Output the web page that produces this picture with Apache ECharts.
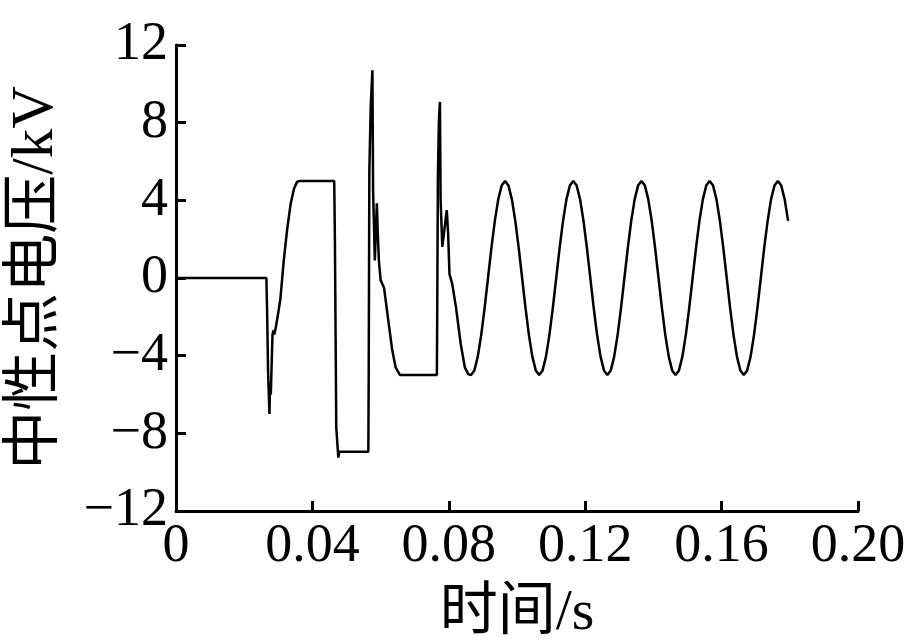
<!DOCTYPE html>
<html><head><meta charset="utf-8">
<script src="https://cdn.jsdelivr.net/npm/echarts@6/dist/echarts.min.js"></script>
<style>html,body{margin:0;padding:0;background:#fff}#c{width:909px;height:640px}</style>
</head><body><div id="c"></div>
<script>
const xTickLabels = ['0', '0.04', '0.08', '0.12', '0.16', '0.20'];
const yTickLabels = ['−12', '−8', '−4', '0', '4', '8', '12'];
const xTitle = '时间/s';
const yTitle = '中性点电压/kV';

const transientTime = [0, 0.0265, 0.0267, 0.0270, 0.0274, 0.0276, 0.0278, 0.0283, 0.0286, 0.0288, 0.0291,
  0.0298, 0.0306, 0.0316, 0.0326, 0.0336, 0.0346, 0.0355, 0.0362,
  0.0464, 0.0466, 0.0470, 0.0476, 0.0479, 0.0564,
  0.0565, 0.0567, 0.0571, 0.0576, 0.0578, 0.0583, 0.0589, 0.0592, 0.0595, 0.0600, 0.0610, 0.0625, 0.0634, 0.0644, 0.0657,
  0.0765, 0.0766, 0.0768, 0.0771, 0.0774, 0.0776, 0.0781, 0.0794, 0.0798, 0.0802, 0.0810, 0.0821, 0.0835, 0.0847, 0.0857];
const transientVolt = [0, 0, -1.5, -4.8, -7.0, -5.4, -6.0, -2.9, -2.7, -2.9, -2.7,
  -2.0, -1.1, 0.9, 2.5, 3.8, 4.6, 4.95, 5.0,
  5.0, 2.0, -7.7, -9.25, -8.95, -8.95,
  -5.6, 5.5, 8.8, 10.7, 4.5, 0.9, 3.85, 2.2, 0.9, -0.1, -0.5, -2.5, -3.7, -4.6, -5.0,
  -5.0, -2.0, 5.2, 8.1, 9.07, 4.0, 1.6, 3.5, 2.3, 0.2, -0.3, -1.5, -3.4, -4.6, -4.95];

const steadyTime = [
  0.0865,0.0875,0.0885,0.0895,0.0905,0.0915,0.0925,0.0935,0.0945,0.0955,
  0.0965,0.0975,0.0985,0.0995,0.1005,0.1015,0.1025,0.1035,0.1045,0.1055,
  0.1065,0.1075,0.1085,0.1095,0.1105,0.1115,0.1125,0.1135,0.1145,0.1155,
  0.1165,0.1175,0.1185,0.1195,0.1205,0.1215,0.1225,0.1235,0.1245,0.1255,
  0.1265,0.1275,0.1285,0.1295,0.1305,0.1315,0.1325,0.1335,0.1345,0.1355,
  0.1365,0.1375,0.1385,0.1395,0.1405,0.1415,0.1425,0.1435,0.1445,0.1455,
  0.1465,0.1475,0.1485,0.1495,0.1505,0.1515,0.1525,0.1535,0.1545,0.1555,
  0.1565,0.1575,0.1585,0.1595,0.1605,0.1615,0.1625,0.1635,0.1645,0.1655,
  0.1665,0.1675,0.1685,0.1695,0.1705,0.1715,0.1725,0.1735,0.1745,0.1755,
  0.1765,0.1775,0.1785,0.1795];
const steadyVolt = [
  -5,-4.76,-4.05,-2.94,-1.55,0,1.55,2.94,4.05,4.76,
  5,4.76,4.05,2.94,1.55,0,-1.55,-2.94,-4.05,-4.76,
  -5,-4.76,-4.05,-2.94,-1.55,0,1.55,2.94,4.05,4.76,
  5,4.76,4.05,2.94,1.55,0,-1.55,-2.94,-4.05,-4.76,
  -5,-4.76,-4.05,-2.94,-1.55,0,1.55,2.94,4.05,4.76,
  5,4.76,4.05,2.94,1.55,0,-1.55,-2.94,-4.05,-4.76,
  -5,-4.76,-4.05,-2.94,-1.55,0,1.55,2.94,4.05,4.76,
  5,4.76,4.05,2.94,1.55,0,-1.55,-2.94,-4.05,-4.76,
  -5,-4.76,-4.05,-2.94,-1.55,0,1.55,2.94,4.05,4.76,
  5,4.76,4.05,2.94];

const data = [];
transientTime.forEach((t, i) => data.push([t, transientVolt[i]]));
steadyTime.forEach((t, i) => data.push([t, steadyVolt[i]]));

const serif = '"Liberation Serif", "Times New Roman", "Noto Sans CJK SC", serif';
const chart = echarts.init(document.getElementById('c'), null, {renderer: 'canvas'});
chart.setOption({
  animation: false,
  backgroundColor: '#fff',
  grid: {left: 176, right: 51, top: 45, bottom: 129, containLabel: false, outerBoundsMode: 'none'},
  xAxis: {
    type: 'value', min: 0, max: 0.2, interval: 0.04,
    name: xTitle, nameLocation: 'middle', nameGap: 74,
    nameTextStyle: {fontFamily: serif, fontSize: 58, color: '#000'},
    axisLine: {show: true, onZero: false, lineStyle: {color: '#000', width: 3}},
    axisTick: {show: true, inside: true, length: 10, lineStyle: {color: '#000', width: 3}},
    axisLabel: {fontFamily: serif, fontSize: 54, color: '#000', margin: 9,
      formatter: (v) => xTickLabels[Math.round(v / 0.04)]},
    splitLine: {show: false}
  },
  yAxis: {
    type: 'value', min: -12, max: 12, interval: 4,
    name: yTitle, nameLocation: 'middle', nameRotate: 90, nameGap: 110,
    nameTextStyle: {fontFamily: serif, fontSize: 59, color: '#000'},
    axisLine: {show: true, onZero: false, lineStyle: {color: '#000', width: 3}},
    axisTick: {show: true, inside: true, length: 10, lineStyle: {color: '#000', width: 3}},
    axisLabel: {fontFamily: serif, fontSize: 54, color: '#000', margin: 8,
      formatter: (v) => yTickLabels[Math.round((v + 12) / 4)]},
    splitLine: {show: false}
  },
  series: [{
    type: 'line', data: data, showSymbol: false, smooth: false,
    lineStyle: {color: '#000', width: 2.5}, clip: false
  }]
});
</script></body></html>
